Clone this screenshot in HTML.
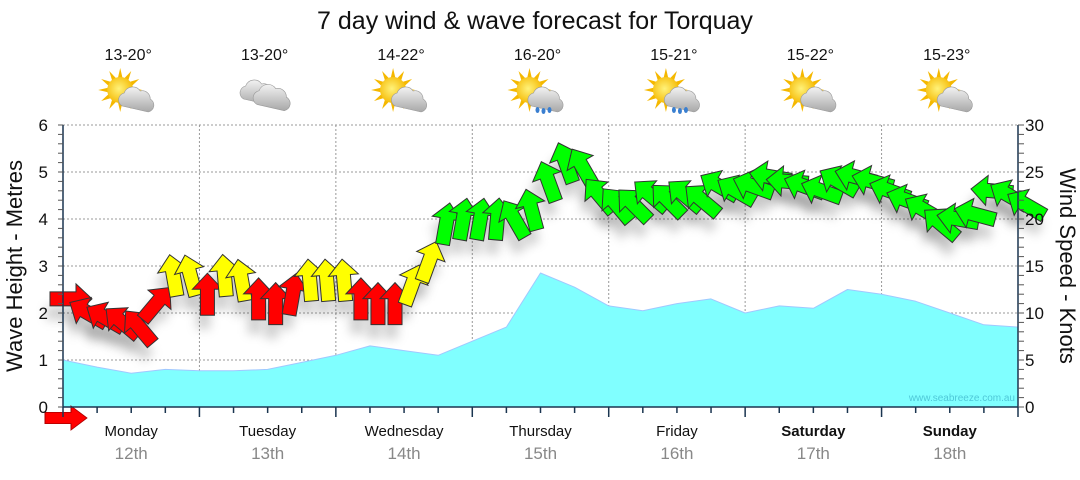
<!DOCTYPE html>
<html><head><meta charset="utf-8"><style>
body{margin:0;background:#fff;width:1080px;height:475px;overflow:hidden;font-family:"Liberation Sans",sans-serif}
svg text{font-family:"Liberation Sans",sans-serif}
</style></head><body>
<svg id="chart" width="1080" height="475" viewBox="0 0 1080 475" xmlns="http://www.w3.org/2000/svg">
<defs>
<filter id="sh" x="-50%" y="-50%" width="200%" height="200%"><feGaussianBlur stdDeviation="5"/></filter>
<radialGradient id="sun" cx="0.45" cy="0.45" r="0.6"><stop offset="0" stop-color="#fff27a"/><stop offset="1" stop-color="#f5b800"/></radialGradient>
<linearGradient id="cl" x1="0" y1="0" x2="0" y2="1"><stop offset="0" stop-color="#f2f2f2"/><stop offset="1" stop-color="#a8a8a8"/></linearGradient>
</defs>
<text x="535" y="29" font-size="25" text-anchor="middle" fill="#111">7 day wind &amp; wave forecast for Torquay</text>
<g id="grid"></g>
<g id="wave"></g>
<g id="shadows"></g>
<g id="arrows"></g>
<g id="axes"></g>
<g id="top"></g>
<text x="1015" y="401" font-size="10" text-anchor="end" fill="#4fc8d8">www.seabreeze.com.au</text>
<text transform="translate(22,266) rotate(-90)" font-size="22" text-anchor="middle" fill="#111">Wave Height - Metres</text>
<text transform="translate(1060,266) rotate(90)" font-size="22" text-anchor="middle" fill="#111">Wind Speed - Knots</text>
</svg>
<script>
const days=["Monday","Tuesday","Wednesday","Thursday","Friday","Saturday","Sunday"];
const dates=["12th","13th","14th","15th","16th","17th","18th"];
const temps=["13-20°","13-20°","14-22°","16-20°","15-21°","15-22°","15-23°"];
const icons=["sun","cloud","sun","rain","rain","sun","sun"];
const waveHeights=[1.0,0.85,0.72,0.8,0.77,0.77,0.8,0.95,1.1,1.3,1.2,1.1,1.4,1.7,2.85,2.55,2.15,2.05,2.2,2.3,2.0,2.15,2.1,2.5,2.4,2.25,2.0,1.75,1.7];
const windSpeed=[11.5,10,9.5,9,8.5,11,14,14,12,14,13.5,11.5,11,12,13.5,13.5,13.5,11.5,11,11,13,15.5,19.5,20,20,20,20,21,24,26,25.5,22.5,21.5,21.5,22.5,22,22.5,22,23.5,23,23.5,24.5,24,23.5,23,24,24.5,24,23,22,21,19.5,20,20.5,23,22.5,21.5];
const windDir=[90,-60,-60,-50,-40,40,-10,-15,0,-5,-10,0,0,10,-5,-5,-5,0,0,0,20,20,10,10,10,5,-30,-15,-20,-20,-30,-40,-40,-45,-50,-45,-50,-50,-60,-60,-70,-80,-85,-70,-70,-60,-75,-75,-70,-70,-60,-50,-80,-75,-85,-60,-60];
const windCat=["R","R","R","R","R","R","Y","Y","R","Y","Y","R","R","R","Y","Y","Y","R","R","R","Y","Y","G","G","G","G","G","G","G","G","G","G","G","G","G","G","G","G","G","G","G","G","G","G","G","G","G","G","G","G","G","G","G","G","G","G","G"];
const leftTicks=["0","1","2","3","4","5","6"];
const rightTicks=["0","5","10","15","20","25","30"];

const NS="http://www.w3.org/2000/svg";
const X0=63,X1=1018,Y0=407,Y1=125,DAY=(X1-X0)/7;
const xH=h=>X0+h*DAY/24;
const yM=m=>Y0-m*(Y0-Y1)/6;
const yK=k=>Y0-k*(Y0-Y1)/30;
function mk(tag,attrs,parent){const e=document.createElementNS(NS,tag);for(const k in attrs)e.setAttribute(k,attrs[k]);parent.appendChild(e);return e;}
const G=id=>document.getElementById(id);

const grid=G("grid");
for(let i=1;i<=6;i++){const l=mk("line",{x1:X0,x2:X1,y1:yM(i),y2:yM(i),stroke:"#999","stroke-dasharray":"2,2","stroke-width":1},grid);

}
for(let d=1;d<7;d++){const l=mk("line",{x1:xH(d*24),x2:xH(d*24),y1:Y1,y2:Y0,stroke:"#999","stroke-dasharray":"2,2","stroke-width":1},grid);

}

let pts=`${X0},${Y0} `+waveHeights.map((v,i)=>`${xH(i*6).toFixed(1)},${yM(v).toFixed(1)}`).join(" ")+` ${X1},${Y0}`;
const wa=mk("polygon",{points:pts,fill:"#80ffff",stroke:"#a0c8ff","stroke-width":1,"stroke-linejoin":"round"},G("wave"));



const cols={R:"#ff0000",Y:"#ffff00",G:"#00ff00"};
const shape="0,-21 15,-5 7,-5 7,21 -7,21 -7,-5 -15,-5";
windSpeed.forEach((v,i)=>{
  const x=xH(i*3),y=yK(v);
  const s=mk("polygon",{points:shape,fill:"#000","fill-opacity":0.18,filter:"url(#sh)",transform:`translate(${x+4},${y+14}) rotate(${windDir[i]})`},G("shadows"));
  
  
  const a=mk("polygon",{points:shape,fill:cols[windCat[i]],stroke:"#333","stroke-width":1,transform:`translate(${x+8},${y}) rotate(${windDir[i]})`},G("arrows"));
  
  
});
const la=mk("polygon",{points:shape,fill:"#ff0000",stroke:"#a00","stroke-width":1,transform:`translate(66,418) rotate(90) scale(0.8,1)`},G("arrows"));



const ax=G("axes");
const axc="#1a3550";
[[X0,Y1,X0,Y0],[X0,Y0,X1,Y0],[X1,Y1,X1,Y0]].forEach(c=>{const l=mk("line",{x1:c[0],y1:c[1],x2:c[2],y2:c[3],stroke:axc,"stroke-width":1.5},ax);

});
for(let i=0;i<=30;i++){const y=Y0-i*(Y0-Y1)/30;
 mk("line",{x1:X0-5,x2:X0,y1:y,y2:y,stroke:"#555"},ax);
 mk("line",{x1:X1,x2:X1+6,y1:y,y2:y,stroke:"#555"},ax);}
leftTicks.forEach((t,i)=>{const e=mk("text",{x:48,y:yM(i)+6,"font-size":17,"text-anchor":"end",fill:"#111"},ax);e.textContent=t;

});
rightTicks.forEach((t,i)=>{const e=mk("text",{x:1025,y:yK(i*5)+6,"font-size":17,fill:"#111"},ax);e.textContent=t;

});
for(let h=0;h<=168;h+=6){const x=xH(h);mk("line",{x1:x,x2:x,y1:Y0,y2:Y0+(h%24==0?10:6),stroke:axc,"stroke-width":1.5},ax);}
days.forEach((d,i)=>{const cx=xH(i*24+12);
 const t=mk("text",{x:cx,y:436,"font-size":15,"text-anchor":"middle",fill:"#111","font-weight":i>=5?"bold":"normal"},ax);t.textContent=d;
 
 
 const t2=mk("text",{x:cx,y:459,"font-size":17,"text-anchor":"middle",fill:"#888"},ax);t2.textContent=dates[i];
 
 
 const t3=mk("text",{x:cx-3,y:60,"font-size":16,"text-anchor":"middle",fill:"#111"},G("top"));t3.textContent=temps[i];
 
 
 const g=mk("g",{transform:`translate(${cx-3},94)`},G("top"));
 
 
 const cloud=(dx,dy,s)=>{const c=mk("g",{transform:`translate(${dx},${dy}) scale(${s})`},g);
   mk("path",{d:"M-14,8 a7,7 0 0 1 2,-13 a9,9 0 0 1 16,-2 a8,8 0 0 1 10,8 a7,7 0 0 1 -2,13 z",fill:"url(#cl)",stroke:"#999","stroke-width":0.6},c);};
 if(icons[i]=="cloud"){cloud(-7,-3,1);cloud(7,2,1.05);}
 else{
   for(let r=0;r<12;r++){const an=r*30*Math.PI/180;mk("polygon",{points:`${-8+Math.cos(an)*22},${-4+Math.sin(an)*22} ${-8+Math.cos(an+0.2)*12},${-4+Math.sin(an+0.2)*12} ${-8+Math.cos(an-0.2)*12},${-4+Math.sin(an-0.2)*12}`,fill:"#f5b800"},g);}
   mk("circle",{cx:-8,cy:-4,r:13,fill:"url(#sun)"},g);
   cloud(8,4,1);
   if(icons[i]=="rain"){[[0,16],[6,17],[12,16]].forEach(p=>mk("ellipse",{cx:p[0],cy:p[1],rx:2,ry:3,fill:"#3a7fd0"},g));}
 }
});
</script>
</body></html>
